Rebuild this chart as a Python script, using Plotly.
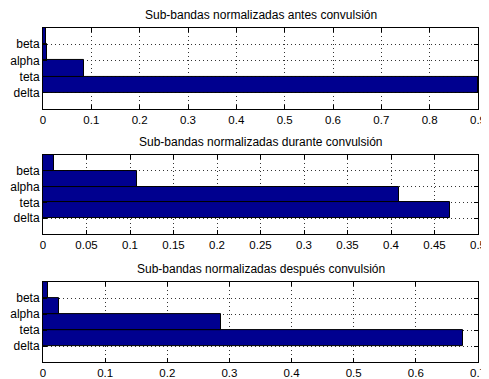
import plotly.graph_objects as go

bands = ["delta", "teta", "alpha", "beta"]
titles = [
    "Sub-bandas normalizadas antes convulsión",
    "Sub-bandas normalizadas durante convulsión",
    "Sub-bandas normalizadas después convulsión",
]
antes = [0.9, 0.085, 0.009, 0.006]
durante = [0.4675, 0.409, 0.108, 0.0126]
despues = [0.676, 0.287, 0.026, 0.008]
series = [antes, durante, despues]
xmax = [0.9, 0.5, 0.7]
xstep = [0.1, 0.05, 0.1]
bar_pos = [1.5, 2.5, 3.5, 4.5]
tick_pos = [1, 2, 3, 4]

domains = [(0.719, 0.949), (0.364, 0.588), (0.0, 0.227)]

fig = go.Figure()
yfont = dict(family="Liberation Sans, Arial, sans-serif", size=12, color="black")
xfont = dict(family="Liberation Sans, Arial, sans-serif", size=11.5, color="black")

for i, vals in enumerate(series):
    n = i + 1
    xa = "x" if n == 1 else f"x{n}"
    ya = "y" if n == 1 else f"y{n}"
    fig.add_trace(go.Bar(
        x=vals, y=bar_pos, orientation="h", width=1,
        marker=dict(color="#00008F", line=dict(color="black", width=1)),
        xaxis=xa, yaxis=ya, showlegend=False, hoverinfo="x",
    ))
    nt = int(round(xmax[i] / xstep[i]))
    tv = [round(k * xstep[i], 4) for k in range(nt + 1)]
    tt = ["0" if v == 0 else f"{v:g}" for v in tv]
    axkey = "xaxis" if n == 1 else f"xaxis{n}"
    aykey = "yaxis" if n == 1 else f"yaxis{n}"
    fig.update_layout(**{
        axkey: dict(
            domain=[0, 1], anchor=ya, range=[0, xmax[i]],
            tickvals=tv, ticktext=tt, ticks="inside", ticklen=4,
            tickcolor="black", mirror="ticks", showline=True,
            linecolor="black", linewidth=1, showgrid=True,
            gridcolor="#333333", griddash="1px,3px", gridwidth=1,
            zeroline=False, tickfont=xfont, fixedrange=True,
            automargin=False,
        ),
        aykey: dict(
            domain=list(domains[i]), anchor=xa, range=[0, 5],
            tickvals=tick_pos, ticktext=bands, ticks="inside", ticklen=4,
            tickcolor="black", mirror="ticks", showline=True,
            linecolor="black", linewidth=1, showgrid=True,
            gridcolor="#333333", griddash="1px,3px", gridwidth=1,
            zeroline=False, tickfont=yfont, fixedrange=True,
            automargin=False,
        ),
    })
    fig.add_annotation(
        text=titles[i], xref="paper", yref="paper", x=0.5,
        y=domains[i][1], yanchor="bottom", xanchor="center",
        yshift=4, showarrow=False,
        font=dict(family="Liberation Sans, Arial, sans-serif", size=12, color="black"),
    )

# page body has an 8px default margin; margins compensate for that offset
fig.update_layout(
    width=489, height=371,
    margin=dict(l=35, r=19, t=2, b=17, autoexpand=False),
    paper_bgcolor="white", plot_bgcolor="white",
    bargap=0,
)

fig.write_html("out.html")
